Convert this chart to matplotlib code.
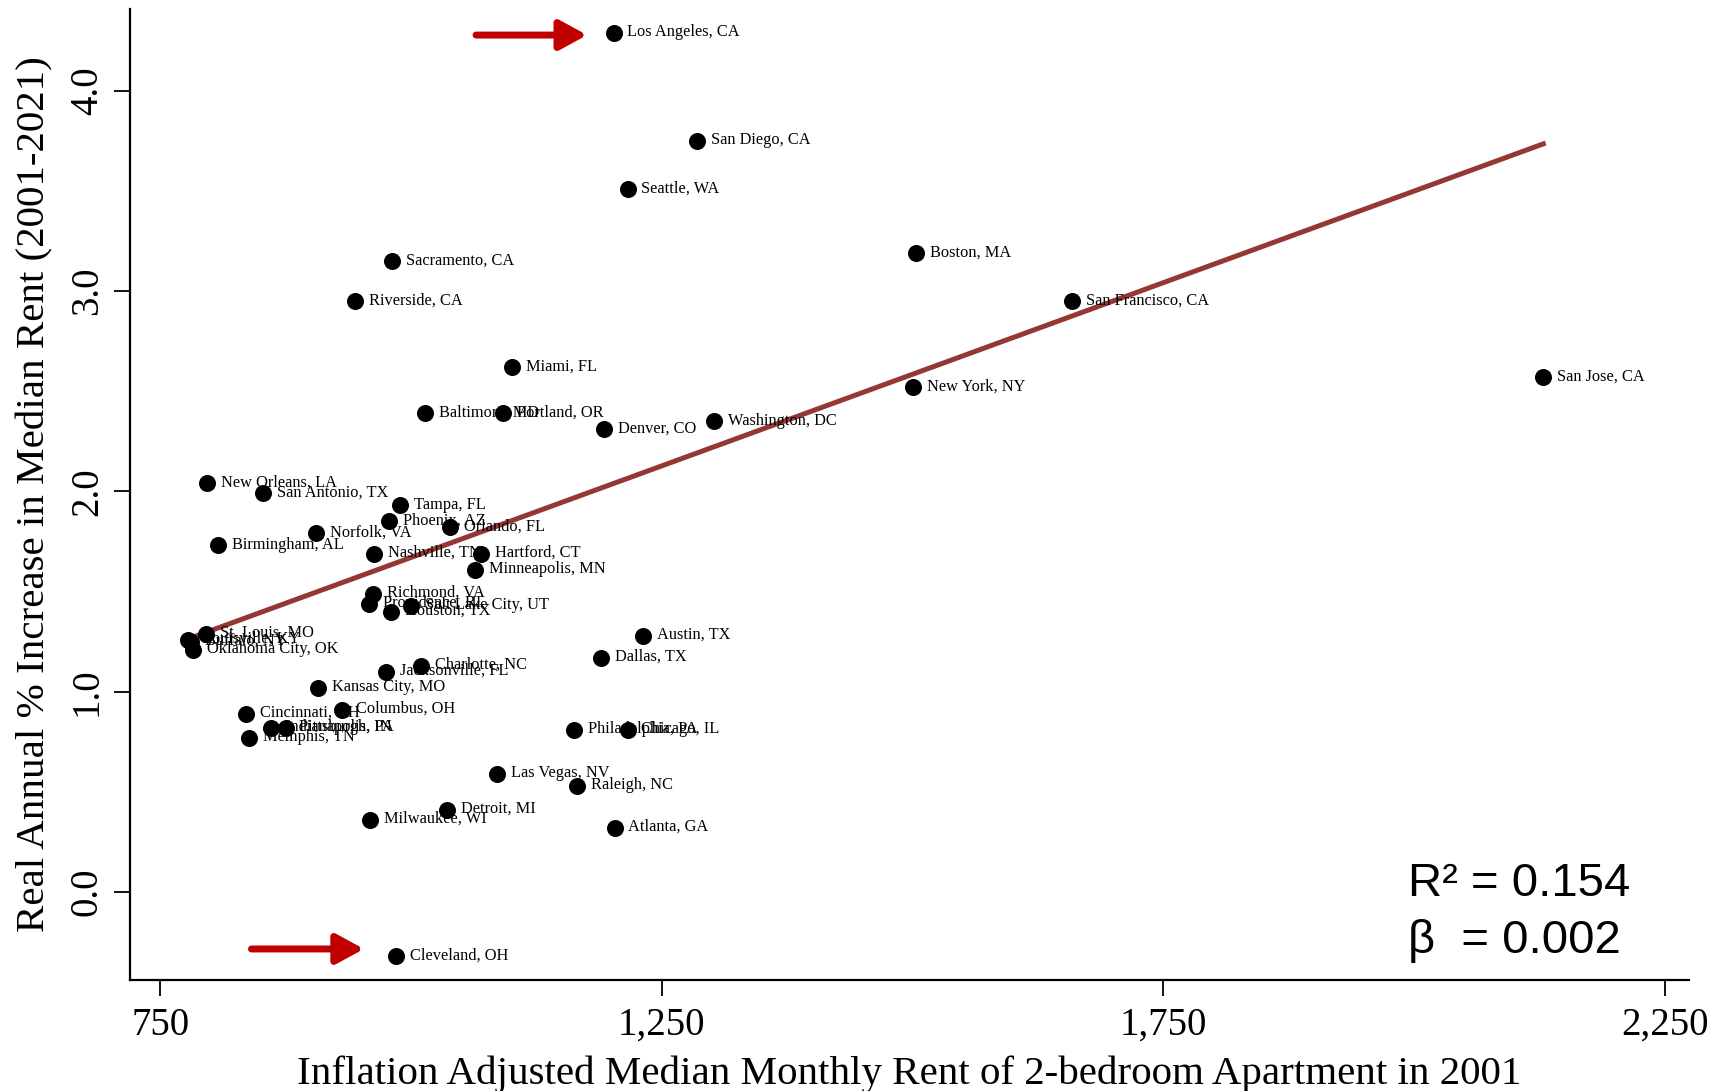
import numpy as np
import matplotlib
matplotlib.use("Agg")
import matplotlib.pyplot as plt
from matplotlib.transforms import offset_copy

# metro, 2001 median rent (inflation adjusted), real annual % increase 2001-2021
metros = [
    "Los Angeles, CA", "San Diego, CA", "Seattle, WA", "Boston, MA", "San Francisco, CA",
    "Sacramento, CA", "Riverside, CA", "Miami, FL", "San Jose, CA", "New York, NY",
    "Baltimore, MD", "Portland, OR", "Denver, CO", "Washington, DC", "New Orleans, LA",
    "San Antonio, TX", "Tampa, FL", "Phoenix, AZ", "Orlando, FL", "Norfolk, VA",
    "Birmingham, AL", "Nashville, TN", "Hartford, CT", "Minneapolis, MN", "Richmond, VA",
    "Providence, RI", "Salt Lake City, UT", "Houston, TX", "Austin, TX", "St. Louis, MO",
    "Louisville, KY", "Buffalo, NY", "Oklahoma City, OK", "Dallas, TX", "Charlotte, NC",
    "Jacksonville, FL", "Kansas City, MO", "Columbus, OH", "Cincinnati, OH", "Indianapolis, IN",
    "Pittsburgh, PA", "Memphis, TN", "Philadelphia, PA", "Chicago, IL", "Las Vegas, NV",
    "Raleigh, NC", "Detroit, MI", "Milwaukee, WI", "Atlanta, GA", "Cleveland, OH",
]
rent_2001 = [
    1202, 1285, 1216, 1504, 1659,
    981, 944, 1101, 2129, 1501,
    1014, 1092, 1193, 1302, 797,
    853, 989, 978, 1039, 905,
    808, 963, 1070, 1064, 962,
    958, 1000, 980, 1231, 796,
    778, 781, 783, 1190, 1010,
    975, 907, 931, 836, 861,
    875, 839, 1163, 1216, 1086,
    1166, 1036, 959, 1203, 985,
]
growth = [
    4.29, 3.75, 3.51, 3.19, 2.95,
    3.15, 2.95, 2.62, 2.57, 2.52,
    2.39, 2.39, 2.31, 2.35, 2.04,
    1.99, 1.93, 1.85, 1.82, 1.79,
    1.73, 1.69, 1.69, 1.61, 1.49,
    1.44, 1.43, 1.40, 1.28, 1.29,
    1.26, 1.25, 1.21, 1.17, 1.13,
    1.10, 1.02, 0.91, 0.89, 0.82,
    0.82, 0.77, 0.81, 0.81, 0.59,
    0.53, 0.41, 0.36, 0.32, -0.32,
]
# fitted line as drawn in the chart
fit_slope = 0.00183
fit_intercept = -0.160

highlight = ["Los Angeles, CA", "Cleveland, OH"]
arrow_gap = [19, 23]      # pt between arrow tip and dot
arrow_len = [80, 81]      # pt
arrow_dy = [-1.5, 5]      # pt
x_ticks = [750, 1250, 1750, 2250]
y_ticks = [0.0, 1.0, 2.0, 3.0, 4.0]
r2_text = "R\u00b2 = 0.154"
beta_text = "\u03b2  = 0.002"

serif = "Liberation Serif"
line_color = "#953735"
arrow_color = "#C00000"

x = np.array(rent_2001, dtype=float)
y = np.array(growth, dtype=float)

fig = plt.figure(figsize=(17.25, 10.91), dpi=100)
ax = fig.add_axes([0.0754, 0.1018, 0.9036, 0.89])

xf = np.array([x.min(), x.max()])
ax.plot(xf, fit_intercept + fit_slope * xf, color=line_color, lw=3.6, zorder=2)

ax.scatter(x, y, s=150, color="black", zorder=3, linewidths=0)
for name, xi, yi in zip(metros, x, y):
    ax.annotate(name, (xi, yi), xytext=(10, 0.5), textcoords="offset points",
                ha="left", va="center", fontsize=11.8, family=serif, zorder=4)

# red arrows pointing at LA and Cleveland
for name, gap, ln, dy in zip(highlight, arrow_gap, arrow_len, arrow_dy):
    i = metros.index(name)
    tip = offset_copy(ax.transData, fig=fig, x=-gap, y=dy, units="points")
    ax.annotate("", xy=(x[i], y[i]), xycoords=tip, xytext=(-ln, 0),
                textcoords="offset points",
                arrowprops=dict(arrowstyle="-|>,head_length=1.1,head_width=0.6",
                                color=arrow_color, lw=5, shrinkA=0, shrinkB=0,
                                mutation_scale=15),
                zorder=5)

ax.set_xlim(720, 2274)
ax.set_ylim(-0.44, 4.41)
ax.set_xticks(x_ticks)
ax.set_xticklabels([f"{v:,}" for v in x_ticks], family=serif, fontsize=28)
ax.set_yticks(y_ticks)
ax.set_yticklabels([f"{v:.1f}" for v in y_ticks], family=serif, fontsize=28,
                   rotation=90, va="center")
ax.tick_params(axis="both", direction="out", length=11.5, width=1.3, color="black")
ax.tick_params(axis="x", pad=8)
ax.tick_params(axis="y", pad=6)

for side in ["top", "right"]:
    ax.spines[side].set_visible(False)
for side in ["left", "bottom"]:
    ax.spines[side].set_linewidth(1.6)

ax.set_xlabel("Inflation Adjusted Median Monthly Rent of 2-bedroom Apartment in 2001",
              family=serif, fontsize=29.5, labelpad=8)
ax.set_ylabel("Real Annual % Increase in Median Rent (2001-2021)",
              family=serif, fontsize=29.5, labelpad=11)

ax.text(0.820, 0.086, r2_text, transform=ax.transAxes, family="Liberation Sans",
        fontsize=34, ha="left", va="baseline")
ax.text(0.820, 0.028, beta_text, transform=ax.transAxes, family="Liberation Sans",
        fontsize=34, ha="left", va="baseline")

fig.savefig("out.png", dpi=100)
